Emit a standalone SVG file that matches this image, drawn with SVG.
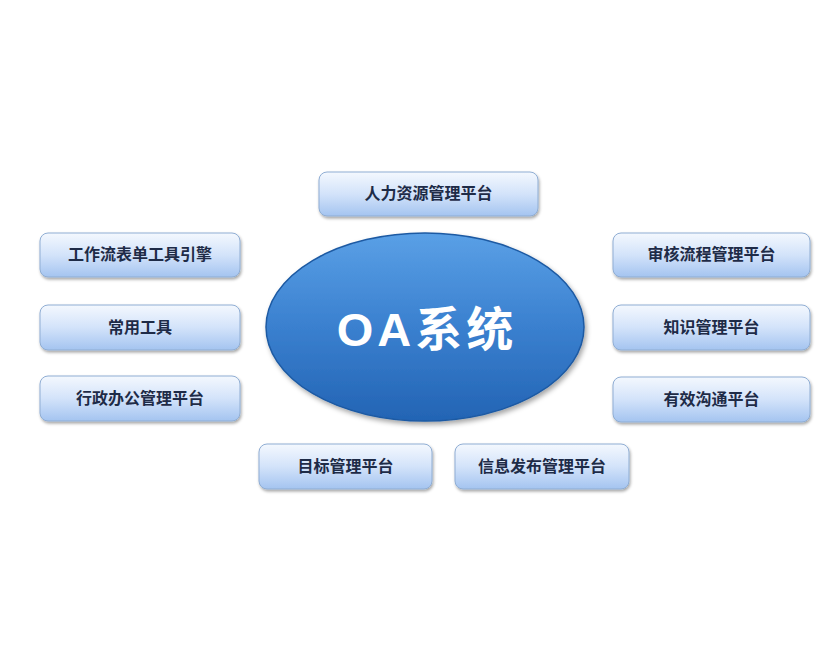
<svg xmlns="http://www.w3.org/2000/svg" width="834" height="666" viewBox="0 0 834 666">
<defs>
<linearGradient id="boxg" x1="0" y1="0" x2="0" y2="1">
<stop offset="0" stop-color="#f4f8fe"/>
<stop offset="0.5" stop-color="#d3e3fa"/>
<stop offset="1" stop-color="#a4c4f0"/>
</linearGradient>
<linearGradient id="ellg" x1="0" y1="0" x2="0" y2="1">
<stop offset="0" stop-color="#5aa0e6"/>
<stop offset="0.5" stop-color="#3a80cf"/>
<stop offset="1" stop-color="#2364b4"/>
</linearGradient>
<filter id="sh" x="-10%" y="-20%" width="125%" height="150%">
<feDropShadow dx="1" dy="2" stdDeviation="1.5" flood-color="#000" flood-opacity="0.35"/>
</filter>
<filter id="esh" x="-10%" y="-10%" width="125%" height="130%">
<feDropShadow dx="2" dy="3" stdDeviation="2.5" flood-color="#000" flood-opacity="0.35"/>
</filter>
</defs>
<style>
.box{fill:url(#boxg);stroke:#8fadd3;stroke-width:1;filter:url(#sh)}
.lbl{font-family:"Microsoft YaHei","Noto Sans CJK SC",sans-serif;font-weight:bold;font-size:16px;fill:#1e2b47;text-anchor:middle;dominant-baseline:central}
</style>
<rect width="834" height="666" fill="#ffffff"/>
<g id="connectors"/>
<g id="center">
<ellipse cx="425" cy="327" rx="159" ry="94" fill="url(#ellg)" stroke="#1d5aa3" stroke-width="1.5" filter="url(#esh)"/>
<text x="427" y="329" font-family="Liberation Sans,'Noto Sans CJK SC',sans-serif" font-weight="bold" font-size="47" letter-spacing="4" fill="#ffffff" text-anchor="middle" dominant-baseline="central">OA系统</text>
</g>
<g id="n-hr"><rect class="box" x="319" y="172" width="219" height="44" rx="8"/><text class="lbl" x="428.5" y="192">人力资源管理平台</text></g>
<g id="n-workflow"><rect class="box" x="40" y="233" width="200" height="44" rx="8"/><text class="lbl" x="140" y="253">工作流表单工具引擎</text></g>
<g id="n-tools"><rect class="box" x="40" y="305" width="200" height="45" rx="8"/><text class="lbl" x="140" y="325.5">常用工具</text></g>
<g id="n-admin"><rect class="box" x="40" y="376" width="200" height="45" rx="8"/><text class="lbl" x="140" y="396.5">行政办公管理平台</text></g>
<g id="n-audit"><rect class="box" x="613" y="233" width="197" height="44" rx="8"/><text class="lbl" x="711.5" y="253">审核流程管理平台</text></g>
<g id="n-knowledge"><rect class="box" x="613" y="305" width="197" height="45" rx="8"/><text class="lbl" x="711.5" y="325.5">知识管理平台</text></g>
<g id="n-comm"><rect class="box" x="613" y="377" width="197" height="45" rx="8"/><text class="lbl" x="711.5" y="397.5">有效沟通平台</text></g>
<g id="n-goal"><rect class="box" x="259" y="444" width="173" height="45" rx="8"/><text class="lbl" x="345.5" y="464.5">目标管理平台</text></g>
<g id="n-info"><rect class="box" x="455" y="444" width="174" height="45" rx="8"/><text class="lbl" x="542" y="464.5">信息发布管理平台</text></g>
</svg>
